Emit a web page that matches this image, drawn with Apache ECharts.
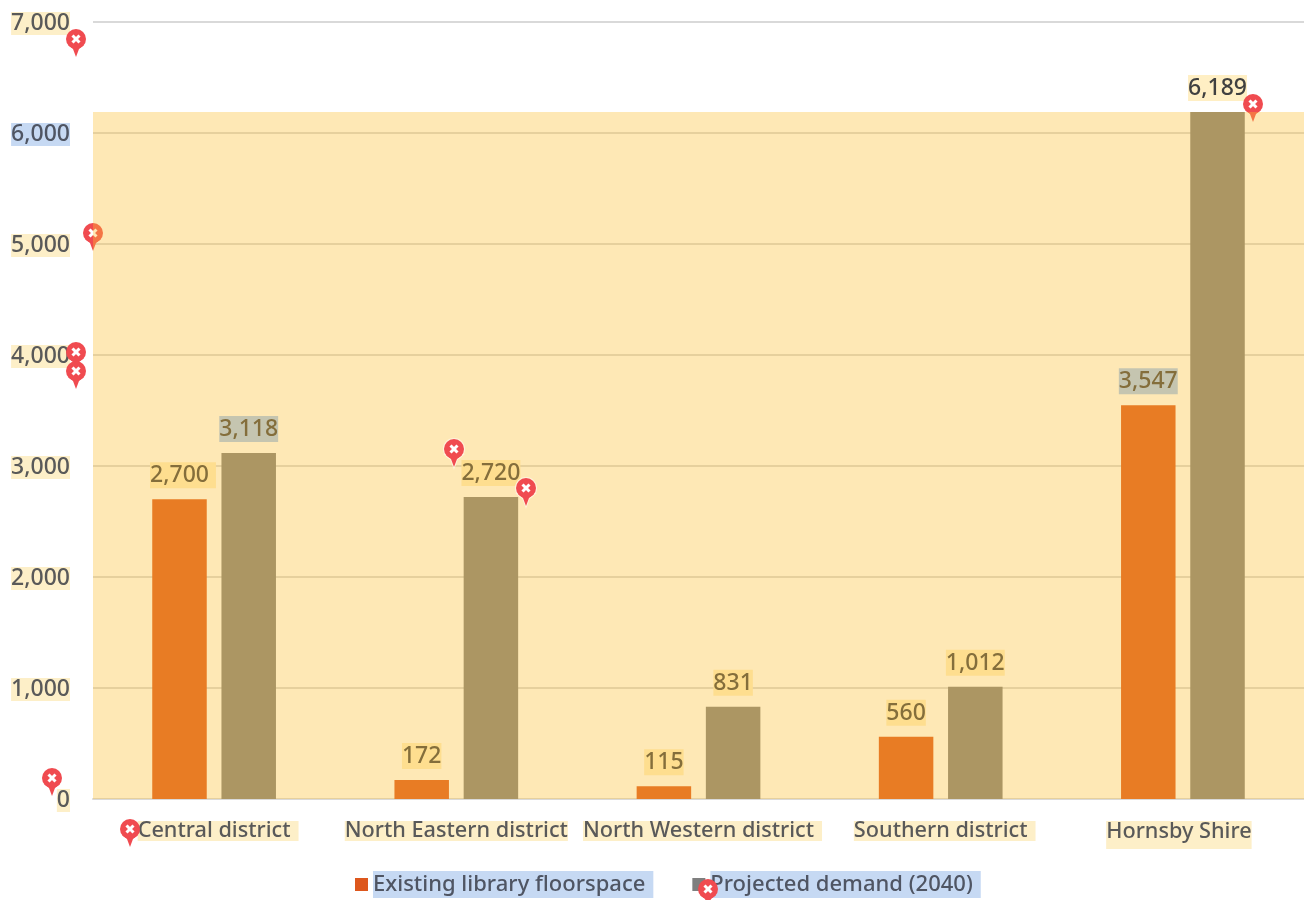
<!DOCTYPE html>
<html>
<head>
<meta charset="utf-8">
<style>
  html, body { margin: 0; padding: 0; background: #fff; }
  #chart { width: 1304px; height: 900px; }
</style>
<script src="https://cdn.jsdelivr.net/npm/echarts@6/dist/echarts.min.js"></script>
</head>
<body>
<div id="chart"></div>
<script>
const categories = ['Central district', 'North Eastern district', 'North Western district', 'Southern district', 'Hornsby Shire'];
const existing = [2700, 172, 115, 560, 3547];
const projected = [3118, 2720, 831, 1012, 6189];
const yTicks = [0, 1000, 2000, 3000, 4000, 5000, 6000, 7000];
// which highlight each text carries in the reference
const existingMarks = ['w', 'y', 'y', 'y', 'b'];
const projectedMarks = ['b', 'y', 'y', 'y', 'y'];
const categoryMarks = ['c', 'n', 'c', 'c', 'h'];

const FONT = '"Noto Sans", sans-serif';
const WEIGHT = 500;
const fmt = v => v.toLocaleString('en-US');

const chart = echarts.init(document.getElementById('chart'), null, { renderer: 'canvas' });

const TIP = [[-8, 6], [-3, 10], [0, 18], [3, 10], [8, 6]];

// red map pins sitting on top of the chart
function pin(x, y, z, halo) {
  const under = !halo ? [] : [
    { type: 'polygon', x: x, y: y, z: z, silent: true,
      shape: { points: TIP },
      style: { fill: '#FFF3DC', stroke: '#FFF3DC', lineWidth: 2 } },
    { type: 'circle', x: x, y: y, z: z, silent: true,
      shape: { cx: 0, cy: 0, r: 11 },
      style: { fill: '#FFF3DC' } }
  ];
  return under.concat([
    { type: 'polygon', x: x, y: y, z: z, silent: true,
      shape: { points: TIP },
      style: { fill: '#F04B50' } },
    { type: 'circle', x: x, y: y, z: z, silent: true,
      shape: { cx: 0, cy: 0, r: 10 },
      style: { fill: '#F04B50' } },
    { type: 'polyline', x: x, y: y, z: z, silent: true,
      shape: { points: [[-3.5, -3.5], [3.5, 3.5]] },
      style: { stroke: '#fff', lineWidth: 3, fill: null } },
    { type: 'polyline', x: x, y: y, z: z, silent: true,
      shape: { points: [[-3.5, 3.5], [3.5, -3.5]] },
      style: { stroke: '#fff', lineWidth: 3, fill: null } }
  ]);
}

const numText = { fontFamily: FONT, fontWeight: WEIGHT, fontSize: 23 };
const wordText = { fontFamily: FONT, fontWeight: WEIGHT, fontSize: 21.7 };

const valueRich = {
  y: { ...numText, backgroundColor: '#FFEFC4', color: '#404040', padding: [2, 0, 1, 0] },
  b: { ...numText, backgroundColor: '#A7C9F8', color: '#404040', padding: [2, 0, 1, 0] },
  w: { ...numText, backgroundColor: '#FFEFC4', color: '#404040', padding: [2, 7, 1, 0] },
  s: { width: 7 }
};

function valueLabel(marks) {
  return {
    show: true,
    position: 'top',
    distance: 11,
    formatter: p => {
      const m = marks[p.dataIndex];
      return (m === 'w' ? '{s| }' : '') + '{' + m + '|' + fmt(p.value) + '}';
    },
    rich: valueRich
  };
}

const option = {
  animation: false,
  grid: { left: 93, right: 0, top: 22, height: 777, containLabel: false },
  legend: {
    left: 355,
    top: 871,
    padding: 0,
    icon: 'rect',
    itemWidth: 13,
    itemHeight: 13,
    itemGap: 39,
    textStyle: {
      fontFamily: FONT,
      fontWeight: WEIGHT,
      fontSize: 22,
      color: '#4F5563',
      backgroundColor: '#C6D9F3',
      padding: [2, 8, 3, 0]
    }
  },
  xAxis: {
    type: 'category',
    data: categories,
    axisTick: { show: false },
    axisLine: { lineStyle: { color: '#D9D9D9', width: 2 } },
    axisLabel: {
      margin: 22,
      interval: 0,
      formatter: v => {
        const m = categoryMarks[categories.indexOf(v)];
        if (m === 'c') return '{s| }{c|' + v + '}';
        if (m === 'h') return '{h|' + v + '}{s| }';
        return '{n|' + v + '}';
      },
      rich: {
        c: { ...wordText, backgroundColor: '#FDEFC8', color: '#595959', height: 20, padding: [0, 8, 0, 0] },
        n: { ...wordText, backgroundColor: '#FDEFC8', color: '#595959', height: 20 },
        h: { ...wordText, backgroundColor: '#FDEFC8', color: '#595959', height: 22, padding: [0, 0, 6, 0] },
        s: { width: 8 }
      }
    }
  },
  yAxis: {
    type: 'value',
    min: 0,
    max: yTicks[yTicks.length - 1],
    interval: 1000,
    axisLine: { show: false },
    axisTick: { show: false },
    splitLine: { lineStyle: { color: '#D9D9D9', width: 2 } },
    axisLabel: {
      margin: 23,
      padding: [3, 0, 0, 0],
      formatter: v => '{' + (v === 6000 ? 'b' : 'y') + '|' + fmt(v) + '}',
      rich: {
        y: { ...numText, backgroundColor: '#FDEFC8', color: '#595959', lineHeight: 26 },
        b: { ...numText, backgroundColor: '#C6D9F3', color: '#4F5563', lineHeight: 26 }
      }
    }
  },
  series: [
    {
      name: 'Existing library floorspace',
      type: 'bar',
      barWidth: 54.5,
      barGap: '27%',
      itemStyle: { color: '#DD571D' },
      label: valueLabel(existingMarks),
      data: existing
    },
    {
      name: 'Projected demand (2040)',
      type: 'bar',
      barWidth: 54.5,
      itemStyle: { color: '#7F7F7F' },
      label: valueLabel(projectedMarks),
      data: projected,
      // translucent yellow band up to the tallest bar, lying over bars and labels
      markArea: {
        silent: true,
        z: 10,
        itemStyle: { color: 'rgba(252,192,50,0.36)' },
        data: [[{ yAxis: 0 }, { yAxis: Math.max(...projected) }]]
      }
    }
  ],
  graphic: {
    elements: [].concat(
      pin(93, 233, 8),
      pin(1253, 104, 8),
      pin(76, 39, 20),
      pin(76, 352, 20),
      pin(76, 371, 20),
      pin(52, 778, 20),
      pin(130, 829, 20),
      pin(454, 449, 20, true),
      pin(526, 488, 20, true),
      pin(708, 889, 20)
    )
  }
};

chart.setOption(option);
</script>
</body>
</html>
